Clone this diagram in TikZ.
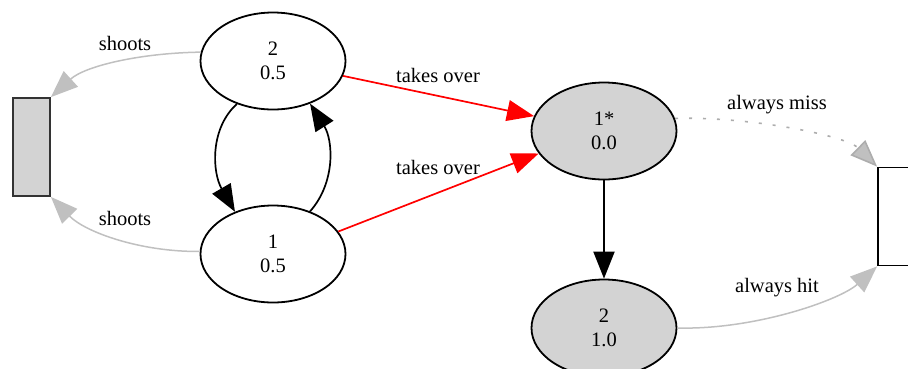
\documentclass[tikz,border=0pt]{standalone}
\usepackage{fontspec}
\setmainfont{Liberation Serif}
\usetikzlibrary{shapes.geometric,arrows.meta}
\definecolor{edgegray}{HTML}{C0C0C0}
\definecolor{nodegray}{HTML}{D3D3D3}
\begin{document}
\begin{tikzpicture}[x=1pt,y=-1pt,
  every node/.style={font=\fontsize{20.5}{24}\selectfont},
  st/.style={ellipse,draw,line width=1.8pt,minimum width=145pt,minimum height=97pt,inner sep=0pt,align=center},
  term/.style={rectangle,draw,line width=1.8pt,minimum width=37pt,minimum height=98pt,inner sep=0pt},
  rededge/.style={draw=red,line width=1.7pt,-{Triangle[length=27pt,width=21pt,fill=red]}},
  blackedge/.style={draw=black,line width=1.7pt,-{Triangle[length=27pt,width=21pt,fill=black]}},
  grayedge/.style={draw=edgegray,line width=1.5pt,-{Triangle[length=27pt,width=21pt,fill=edgegray]}},
  lbl/.style={inner sep=0pt,anchor=center}
]
\useasboundingbox (0,0) rectangle (908,368);
% nodes
\node[term,fill=nodegray,draw=black!80] (lr) at (31.5,147) {};
\node[term,fill=white] (rr) at (896.5,216.5) {};
\node[st,fill=white] (a2) at (273,61) {2\\0.5};
\node[st,fill=white] (a1) at (273,254) {1\\0.5};
\node[st,fill=nodegray] (b1) at (604,131) {1*\\0.0};
\node[st,fill=nodegray] (b2) at (604,328) {2\\1.0};
% shoots
\draw[grayedge] (a2.173) .. controls (140,53) and (85,66) .. (lr.north east);
\draw[grayedge] (a1.178) .. controls (140,252) and (85,232) .. (lr.south east);
\node[lbl] (s1) at (125,43) {shoots};
\node[lbl] (s2) at (125,218) {shoots};
% between 2 and 1
\draw[blackedge] (a2.230) .. controls (210,128) and (212,172) .. (a1.132);
\draw[blackedge] (a1.49) .. controls (336,182) and (333,140) .. (a2.311);
% takes over
\draw[rededge] (a2.348) -- (b1.168);
\draw[rededge] (a1.19) -- (b1.199);
\node[lbl] (t1) at (438,75) {takes over};
\node[lbl] (t2) at (438,167) {takes over};
% 1* -> 2
\draw[blackedge,line width=2pt] (b1.south) -- (b2.north);
% to right terminal
\draw[draw=edgegray!90!black,line width=1.6pt,dash pattern=on 3pt off 11pt,-{Triangle[length=27pt,width=21pt,fill=edgegray]}] (b1.10) .. controls (745,116) and (845,135) .. (rr.north west);
\draw[grayedge] (b2.east) .. controls (755,330) and (840,300) .. (rr.south west);
\node[lbl] (m) at (777,105) {always miss};
\node[lbl] (h) at (777,288) {always hit};
\end{tikzpicture}
\end{document}
